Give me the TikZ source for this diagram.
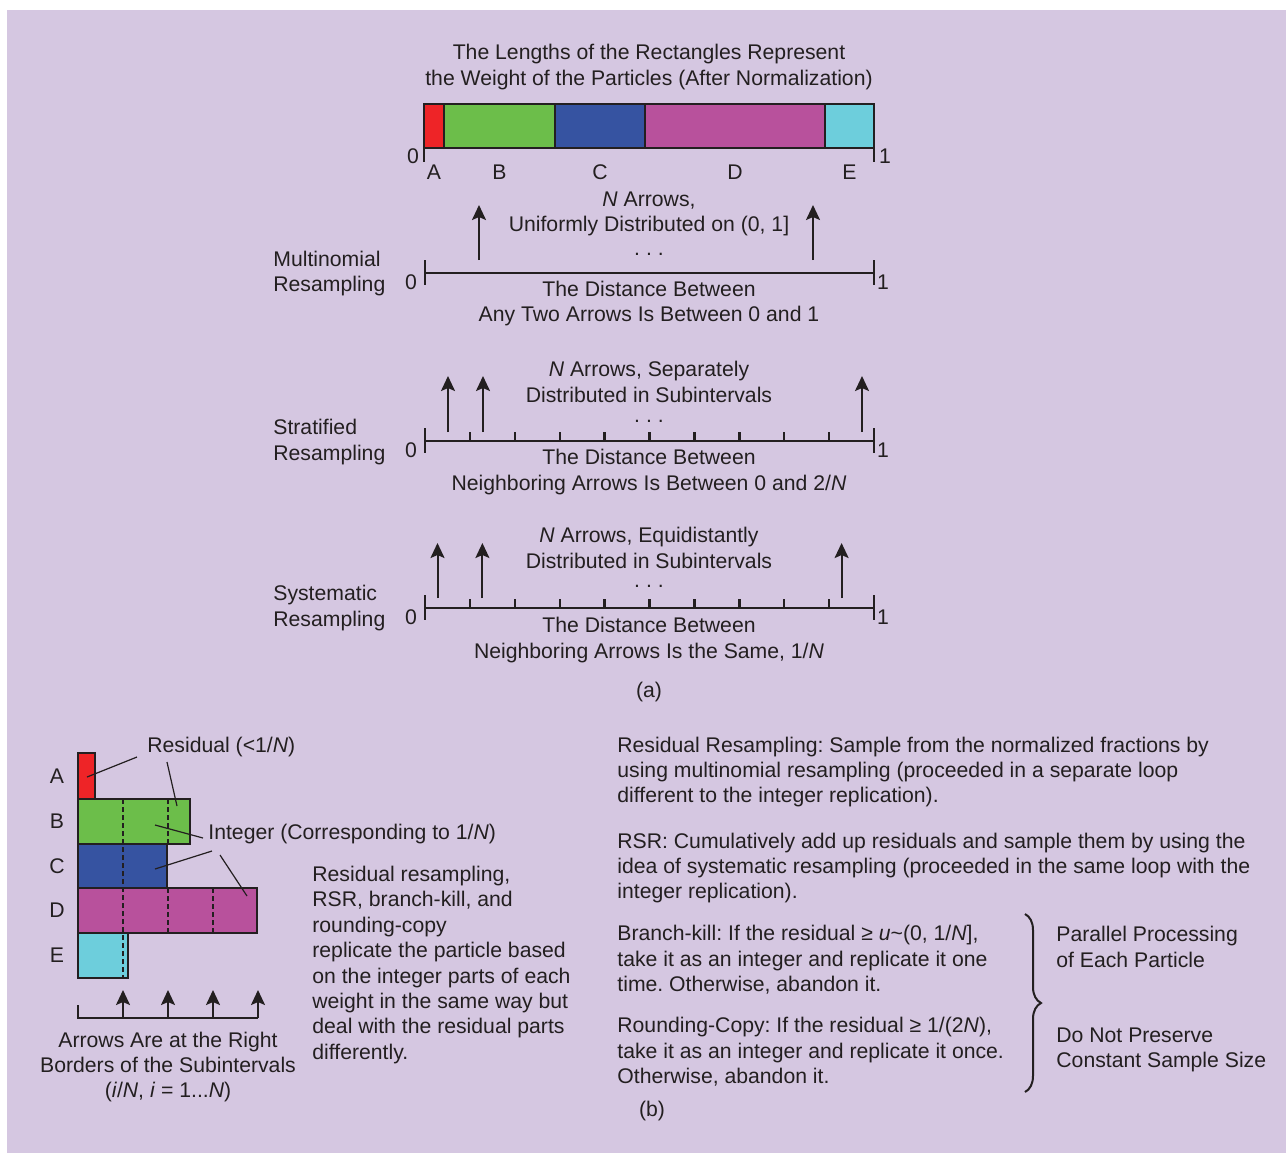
\documentclass[tikz,border=0pt]{standalone}
\usepackage{fontspec}
\setmainfont{Liberation Sans}
\usetikzlibrary{arrows.meta,calc,decorations.pathreplacing}
\definecolor{bgpurple}{HTML}{D5C7E1}
\definecolor{ink}{HTML}{231F20}
\definecolor{partA}{HTML}{EE2427}
\definecolor{partB}{HTML}{6CBE4A}
\definecolor{partC}{HTML}{3653A1}
\definecolor{partD}{HTML}{B8519C}
\definecolor{partE}{HTML}{6DCEDC}
\newcommand{\dotrow}{.\hspace{3pt}.\hspace{3pt}.}
\frenchspacing

\begin{document}
\begin{tikzpicture}[x=0.5pt,y=-0.5pt,
    every node/.style={inner sep=0pt,text=ink,font=\fontsize{10.6}{12.7}\selectfont},
    ctext/.style={align=center},
    ltext/.style={align=left,anchor=west},
    axisline/.style={draw=ink,line width=1.2pt},
    barline/.style={draw=ink,line width=1pt},
    upar/.style={draw=ink,line width=1pt,-{Stealth[length=7.5pt,width=7pt,inset=1.5pt]}},
    intline/.style={draw=ink,line width=0.9pt,dash pattern=on 2.5pt off 1.5pt},
    leader/.style={draw=ink,line width=0.6pt}]
  \useasboundingbox (0,0) rectangle (1286,1153);
  \fill[bgpurple] (7,10) rectangle (1286,1153);

  %(a) weights of the particles
  \node[ctext] (title) at (649,67) {The Lengths of the Rectangles Represent\\the Weight of the Particles (After Normalization)};
  \foreach \xa/\xb/\col/\nm in {424/444/partA/A,444/555/partB/B,555/645/partC/C,645/825/partD/D,825/874/partE/E}{
    \filldraw[fill=\col,barline] (\xa,104) rectangle (\xb,148);
    \node (top\nm) at ({(\xa+\xb)/2},172) {\nm};
  }
  \draw[axisline] (424,148) -- (424,162) (874,148) -- (874,162);
  \node (top0) at (413,156) {0};
  \node (top1) at (885,156) {1};

  %AXES
  \foreach \ya/\nm in {273/multi,441/strat,608/syst}{
    \draw[axisline] (425,\ya) -- (874,\ya);
    \draw[axisline] (425,\ya-13) -- (425,\ya+12) (874,\ya-13) -- (874,\ya+12);
    \node (zero\nm) at (411,\ya+9) {0};
    \node (one\nm) at (883,\ya+9) {1};
  }
  \foreach \ya in {441,608}
    \foreach \k in {1,...,9}
      \draw[axisline] ({425+\k*44.9},\ya) -- ({425+\k*44.9},\ya-9);

  \node[ltext] (lmulti) at (273,273.5) {Multinomial\\Resampling};
  \node[ltext] (lstrat) at (273,442) {Stratified\\Resampling};
  \node[ltext] (lsyst) at (273,608) {Systematic\\Resampling};

  %multinomial
  \node[ctext] (amulti) at (649,214) {\textit{N} Arrows,\\Uniformly Distributed on (0, 1]};
  \node (dmulti) at (649,254) {\dotrow};
  \node[ctext] (bmulti) at (649,303.5) {The Distance Between\\Any Two Arrows Is Between 0 and 1};
  \foreach \xa in {479,813} \draw[upar] (\xa,260) -- (\xa,205);

  %stratified
  \node[ctext] (astrat) at (649,382) {\textit{N} Arrows, Separately\\Distributed in Subintervals};
  \node (dstrat) at (649,421) {\dotrow};
  \node[ctext] (bstrat) at (649,472) {The Distance Between\\Neighboring Arrows Is Between 0 and 2/\textit{N}};
  \foreach \xa in {448,483,862} \draw[upar] (\xa,432) -- (\xa,376);

  %systematic
  \node[ctext] (asyst) at (649,548) {\textit{N} Arrows, Equidistantly\\Distributed in Subintervals};
  \node (dsyst) at (649,586) {\dotrow};
  \node[ctext] (bsyst) at (649,640) {The Distance Between\\Neighboring Arrows Is the Same, 1/\textit{N}};
  \foreach \xa in {437.5,482.4,841.6} \draw[upar] (\xa,598) -- (\xa,543);
  \node (capa) at (649,692) {(a)};

  %(b) integer and residual parts
  \foreach \yt/\yb/\xr/\col/\nm in {753/799/95/partA/A,799/844/190/partB/B,844/888/167/partC/C,888/933/257/partD/D,933/978/128/partE/E}{
    \filldraw[fill=\col,barline] (78,\yt) rectangle (\xr,\yb);
    \node (bar\nm) at (57,{(\yt+\yb)/2}) {\nm};
  }
  \draw[intline] (123,799) -- (123,978);
  \draw[intline] (168,799) -- (168,844);
  \draw[intline] (168,888) -- (168,933);
  \draw[intline] (213,888) -- (213,933);
  \draw[axisline] (78,1005) -- (78,1018) -- (258,1018);
  \foreach \xa in {123,168,213,258} \draw[upar] (\xa,1018) -- (\xa,990);

  \node[ltext] (rres) at (147,747) {Residual (<1/\textit{N})};
  \node[ltext] (rint) at (208,834) {Integer (Corresponding to 1/\textit{N})};
  \coordinate (inA) at (87,777);
  \coordinate (inB) at (177,806);
  \coordinate (intB) at (155,825);
  \coordinate (intC) at (155,869);
  \coordinate (intD) at (247,896);
  \draw[leader] ($(rres.west)+(-10,10)$) -- (inA);
  \draw[leader] ($(rres.west)+(20,15)$) -- (inB);
  \draw[leader] ($(rint.west)+(-5,4)$) -- (intB);
  \draw[leader] ($(rint.west)+(4,17)$) -- (intC);
  \draw[leader] ($(rint.west)+(12,21)$) -- (intD);

  \node[ctext] (arrtxt) at (168,1067) {Arrows Are at the Right\\Borders of the Subintervals\\(\textit{i}/\textit{N}, \textit{i} = 1...\textit{N})};
  \node[ltext] (mid) at (312,965) {Residual resampling,\\RSR, branch-kill, and\\rounding-copy\\replicate the particle based\\on the integer parts of each\\weight in the same way but\\deal with the residual parts\\differently.};

  \node[ltext] (trres) at (617,772) {Residual Resampling: Sample from the normalized fractions by\\using multinomial resampling (proceeded in a separate loop\\different to the integer replication).};
  \node[ltext] (trsr) at (617,868) {RSR: Cumulatively add up residuals and sample them by using the\\idea of systematic resampling (proceeded in the same loop with the\\integer replication).};
  \node[ltext] (tbk) at (617,960) {Branch-kill: If the residual ≥ \textit{u}\textasciitilde(0, 1/\textit{N}],\\take it as an integer and replicate it one\\time. Otherwise, abandon it.};
  \node[ltext] (trc) at (617,1052) {Rounding-Copy: If the residual ≥ 1/(2\textit{N}),\\take it as an integer and replicate it once.\\Otherwise, abandon it.};
  \draw[ink,line width=1pt,decorate,decoration={brace,amplitude=8pt}] (1025,914) -- (1025,1092);
  \node[ltext] (par) at (1056,947) {Parallel Processing\\of Each Particle};
  \node[ltext] (dnp) at (1056,1050) {Do Not Preserve\\Constant Sample Size};
  \node (capb) at (652,1111) {(b)};
\end{tikzpicture}
\end{document}
